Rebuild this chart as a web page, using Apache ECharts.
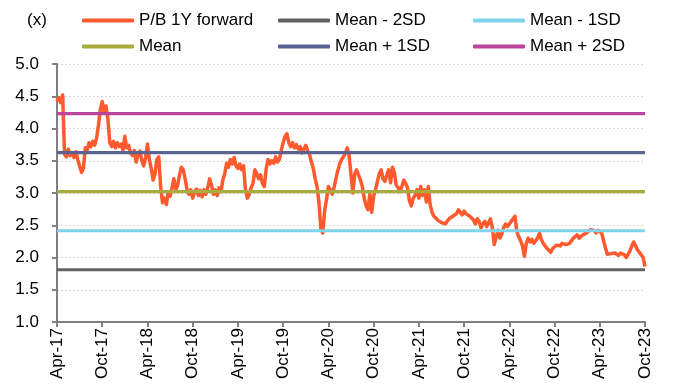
<!DOCTYPE html>
<html>
<head>
<meta charset="utf-8">
<script src="https://cdn.jsdelivr.net/npm/echarts@6/dist/echarts.min.js"></script>
<style>
  html, body { margin: 0; padding: 0; background: #fff; }
  #chart { width: 676px; height: 390px; }
</style>
</head>
<body>
<div id="chart"></div>
<script>
// Axis tick labels, one every six months starting Apr-17
const tickLabels = ['Apr-17', 'Oct-17', 'Apr-18', 'Oct-18', 'Apr-19', 'Oct-19', 'Apr-20',
  'Oct-20', 'Apr-21', 'Oct-21', 'Apr-22', 'Oct-22', 'Apr-23', 'Oct-23'];

// P/B 1Y forward, weekly-ish observations (quarter-month steps) from Apr-17 to Oct-23
const pbStepMonths = 0.25;
const pbValues = [
  4.42, 4.48, 4.40, 4.52, 3.60, 3.56, 3.68, 3.58, 3.62, 3.55,
  3.64, 3.52, 3.42, 3.32, 3.38, 3.70, 3.66, 3.78, 3.72, 3.80,
  3.74, 3.85, 4.05, 4.30, 4.42, 4.25, 4.35, 4.15, 3.78, 3.72,
  3.80, 3.70, 3.78, 3.72, 3.76, 3.66, 3.88, 3.70, 3.74, 3.62,
  3.58, 3.66, 3.48, 3.60, 3.65, 3.50, 3.42, 3.55, 3.76, 3.52,
  3.38, 3.20, 3.30, 3.52, 3.56, 3.10, 2.85, 2.92, 2.82, 3.00,
  2.95, 3.08, 3.22, 3.05, 3.12, 3.28, 3.40, 3.36, 3.22, 3.05,
  2.98, 3.05, 2.92, 3.02, 3.06, 2.96, 3.04, 2.94, 3.05, 2.98,
  3.08, 3.22, 3.12, 2.98, 3.05, 2.96, 3.08, 3.02, 3.20, 3.30,
  3.46, 3.40, 3.52, 3.45, 3.55, 3.42, 3.38, 3.45, 3.36, 3.42,
  3.05, 2.92, 2.98, 3.08, 3.15, 3.36, 3.30, 3.22, 3.28, 3.15,
  3.10, 3.38, 3.52, 3.45, 3.50, 3.46, 3.56, 3.48, 3.52, 3.66,
  3.78, 3.88, 3.92, 3.78, 3.72, 3.78, 3.70, 3.75, 3.68, 3.72,
  3.62, 3.68, 3.74, 3.66, 3.60, 3.48, 3.38, 3.22, 3.10, 2.85,
  2.45, 2.38, 2.72, 2.90, 3.10, 3.05, 2.98, 3.08, 3.22, 3.35,
  3.45, 3.52, 3.56, 3.62, 3.70, 3.58, 3.28, 3.00, 3.30, 3.36,
  3.28, 3.20, 3.10, 2.92, 2.80, 2.74, 2.98, 2.70, 2.95, 3.05,
  3.18, 3.30, 3.36, 3.22, 3.18, 3.28, 3.36, 3.16, 3.40, 3.32,
  3.12, 3.08, 3.02, 3.10, 3.20, 3.15, 3.08, 2.88, 2.80, 2.92,
  2.96, 3.05, 2.92, 3.10, 2.96, 3.05, 2.86, 3.10, 2.82, 2.70,
  2.64, 2.62, 2.58, 2.56, 2.54, 2.55, 2.52, 2.56, 2.60, 2.62,
  2.64, 2.62, 2.68, 2.74, 2.70, 2.66, 2.72, 2.68, 2.70, 2.64,
  2.62, 2.58, 2.52, 2.60, 2.56, 2.46, 2.52, 2.56, 2.48, 2.54,
  2.60, 2.46, 2.20, 2.32, 2.42, 2.30, 2.36, 2.46, 2.52, 2.48,
  2.52, 2.56, 2.58, 2.64, 2.40, 2.32, 2.26, 2.18, 2.02, 2.22,
  2.30, 2.24, 2.28, 2.22, 2.24, 2.30, 2.38, 2.28, 2.22, 2.18,
  2.14, 2.12, 2.08, 2.14, 2.16, 2.19, 2.20, 2.18, 2.22, 2.24,
  2.20, 2.18, 2.22, 2.24, 2.30, 2.32, 2.35, 2.30, 2.32, 2.35,
  2.36, 2.38, 2.36, 2.43, 2.40, 2.42, 2.38, 2.42, 2.40, 2.38,
  2.40, 2.15, 2.05, 2.03, 2.06, 2.04, 2.07, 2.05, 2.03, 2.07,
  2.05, 2.04, 2.00, 2.02, 2.10, 2.18, 2.24, 2.18, 2.12, 2.08,
  2.07, 2.00, 1.86
];

// Mean and standard-deviation bands
const bandNames = ['Mean - 2SD', 'Mean - 1SD', 'Mean', 'Mean + 1SD', 'Mean + 2SD'];
const bandValues = [1.81, 2.415, 3.02, 3.625, 4.23];
const bandColors = ['#636363', '#7fd3ea', '#a8ab3d', '#5b6292', '#b9459c'];
const pbName = 'P/B 1Y forward';
const pbColor = '#ff5a2e';

const totalMonths = (tickLabels.length - 1) * 6;
const font = 'Liberation Sans, Arial, sans-serif';

const pbData = pbValues.map((v, i) => [i * pbStepMonths, v]);

const series = [{
  name: pbName,
  type: 'line',
  data: pbData,
  showSymbol: false,
  symbol: 'none',
  lineStyle: { color: pbColor, width: 3.5, join: 'round' },
  itemStyle: { color: pbColor },
  z: 2
}];
bandNames.forEach((name, k) => {
  series.push({
    name: name,
    type: 'line',
    data: [[0, bandValues[k]], [totalMonths, bandValues[k]]],
    showSymbol: false,
    symbol: 'none',
    lineStyle: { color: bandColors[k], width: 3.2 },
    itemStyle: { color: bandColors[k] },
    z: 3
  });
});

// Legend laid out as a 3 x 2 grid
const legendOrder = [pbName, 'Mean - 2SD', 'Mean - 1SD', 'Mean', 'Mean + 1SD', 'Mean + 2SD'];
const colLeft = [82, 278, 473];
const rowTop = [12, 38];
const legends = legendOrder.map((name, i) => ({
  data: [name],
  left: colLeft[i % 3],
  top: rowTop[Math.floor(i / 3)],
  padding: 0,
  icon: 'roundRect',
  itemWidth: 52,
  itemHeight: 4,
  selectedMode: false,
  textStyle: { fontFamily: font, fontSize: 17, color: '#000' }
}));

const chart = echarts.init(document.getElementById('chart'), null, { renderer: 'canvas' });
chart.setOption({
  animation: false,
  backgroundColor: '#fff',
  legend: legends,
  graphic: [{
    type: 'text',
    left: 27,
    top: 12,
    style: { text: '(x)', fontFamily: font, fontSize: 17, fill: '#000' }
  }],
  grid: { left: 57, right: 31, top: 64, bottom: 68, containLabel: false },
  xAxis: {
    type: 'value',
    min: 0,
    max: totalMonths,
    interval: 6,
    axisLine: { lineStyle: { color: '#808080', width: 2 } },
    axisTick: { show: true, length: 5, lineStyle: { color: '#808080', width: 2 } },
    splitLine: { show: false },
    axisLabel: {
      rotate: 90,
      margin: 6,
      fontFamily: font,
      fontSize: 17,
      color: '#000',
      formatter: v => tickLabels[Math.round(v / 6)] || ''
    }
  },
  yAxis: {
    type: 'value',
    min: 1,
    max: 5,
    interval: 0.5,
    axisLine: { show: true, lineStyle: { color: '#808080', width: 2 } },
    axisTick: { show: true, length: 5, lineStyle: { color: '#808080', width: 2 } },
    splitLine: { show: true, lineStyle: { color: '#d9d9d9', type: [2, 2], width: 1 } },
    axisLabel: {
      margin: 18,
      fontFamily: font,
      fontSize: 17,
      color: '#000',
      formatter: v => v.toFixed(1)
    }
  },
  series: series
});
</script>
</body>
</html>
